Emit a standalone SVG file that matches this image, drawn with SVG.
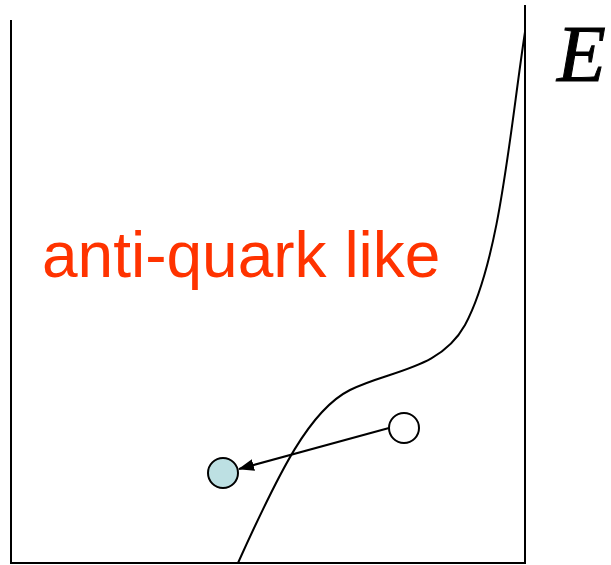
<svg xmlns="http://www.w3.org/2000/svg" width="611" height="565" viewBox="0 0 611 565">
<defs>
<marker id="ah" markerWidth="16" markerHeight="12" refX="15" refY="6" orient="auto" markerUnits="userSpaceOnUse"><path d="M0,0 L16,6 L0,12 Z" fill="#000"/></marker>
<style>.ln{fill:none;stroke:#000;stroke-width:2}</style>
</defs>
<g id="box"><path class="ln" d="M11,20 V563 H525 V5"/></g>
<g id="curve"><path class="ln" d="M238,563 C280,470 310,410 350,390 C390,370 440,370 465,325 C500,260 510,130 525,32"/></g>
<g id="connectors"><line class="ln" x1="389" y1="428" x2="239" y2="469" marker-end="url(#ah)"/></g>
<g id="white-circle"><circle cx="404" cy="428" r="15" fill="#fff" stroke="#000" stroke-width="2"/></g>
<g id="blue-circle"><circle cx="223" cy="473" r="15" fill="#bde0e3" stroke="#000" stroke-width="2"/></g>
<text x="42" y="277" font-family="'Liberation Sans', Arial, sans-serif" font-size="64" fill="#ff3300">anti-quark like</text>
<text x="557" y="81" font-family="'Liberation Serif', 'Times New Roman', serif" font-style="italic" font-size="80" fill="#000" stroke="#000" stroke-width="1">E</text>
</svg>
